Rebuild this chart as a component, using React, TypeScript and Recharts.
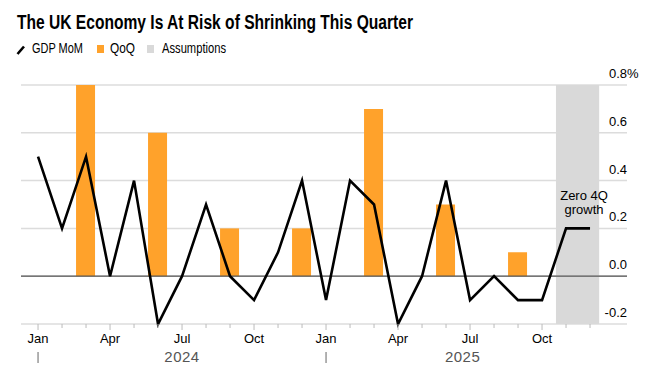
import {
  ComposedChart,
  Bar,
  Line,
  XAxis,
  YAxis,
  CartesianGrid,
  ReferenceLine,
  ReferenceArea,
  ReferenceDot,
} from 'recharts';

// Jan 2024 .. Dec 2025, one slot per month
const months = [
  'Jan', 'Feb', 'Mar', 'Apr', 'May', 'Jun', 'Jul', 'Aug', 'Sep', 'Oct', 'Nov', 'Dec',
  'Jan', 'Feb', 'Mar', 'Apr', 'May', 'Jun', 'Jul', 'Aug', 'Sep', 'Oct', 'Nov', 'Dec',
];
const gdpMoM = [
  0.5, 0.2, 0.5, 0.0, 0.4, -0.2, 0.0, 0.3, 0.0, -0.1, 0.1, 0.4,
  -0.1, 0.4, 0.3, -0.2, 0.0, 0.4, -0.1, 0.0, -0.1, -0.1, 0.2, 0.2,
];
const qoq = [
  null, null, 0.8, null, null, 0.6, null, null, 0.2, null, null, 0.2,
  null, null, 0.7, null, null, 0.3, null, null, 0.1, null, null, null,
];
const yearLabels = ['2024', '2025'];
const yTicks = [-0.2, 0, 0.2, 0.4, 0.6, 0.8];

const assumeStart = 21.58;
const assumeEnd = 23.38;

const data = months.map((m, i) => ({ idx: i, month: m, gdp: gdpMoM[i], qoq: qoq[i] }));
const monthTicks = months.map((_, i) => i);

const ORANGE = '#FFA22B';
const BAND = '#D9D9D9';
const FONT = '"Liberation Sans", Arial, sans-serif';
const NARROW = '"Liberation Sans Narrow", "Liberation Sans", Arial, sans-serif';

const MonthTick = (props: any) => {
  const { x, y, payload } = props;
  const i = payload.value as number;
  const major = i % 3 === 0;
  return (
    <g>
      <line x1={x} x2={x} y1={y} y2={y + (major ? 6 : 4)} stroke="#bbb" strokeWidth={1} />
      {major && (
        <text x={x} y={y + 19} textAnchor="middle" fontSize={13} fontFamily={FONT} fill="#000">
          {months[i]}
        </text>
      )}
      {i % 12 === 0 && (
        <line x1={x} x2={x} y1={y + 28} y2={y + 39} stroke="#666" strokeWidth={1} />
      )}
    </g>
  );
};

const ValueTick = (props: any) => {
  const { x, y, payload } = props;
  const v = payload.value as number;
  const label = v.toFixed(1);
  return (
    <g>
      <text x={x} y={y - 7} textAnchor="end" fontSize={13} fontFamily={FONT} fill="#000">
        {label}
      </text>
      {v === 0.8 && (
        <text x={x} y={y - 7} textAnchor="start" fontSize={13} fontFamily={FONT} fill="#000">
          %
        </text>
      )}
    </g>
  );
};

export default function App() {
  return (
    <div style={{ position: 'absolute', left: 0, top: 0, width: 672, height: 381, background: '#fff' }}>
      <svg width={672} height={70} style={{ position: 'absolute', left: 0, top: 0 }}>
        <text
          x={17}
          y={29}
          fontSize={20}
          fontWeight={700}
          fontFamily={NARROW}
          textLength={396}
          lengthAdjust="spacingAndGlyphs"
          fill="#000"
        >
          The UK Economy Is At Risk of Shrinking This Quarter
        </text>
        <line x1={17.5} y1={54} x2={24} y2={46.5} stroke="#000" strokeWidth={2.6} />
        <text x={32} y={53} fontSize={15} fontFamily={NARROW} textLength={51} lengthAdjust="spacingAndGlyphs">
          GDP MoM
        </text>
        <rect x={97} y={45} width={7} height={8} fill={ORANGE} />
        <text x={110} y={53} fontSize={15} fontFamily={NARROW} textLength={25} lengthAdjust="spacingAndGlyphs">
          QoQ
        </text>
        <rect x={147} y={45} width={7} height={8} fill={BAND} />
        <text x={162} y={53} fontSize={15} fontFamily={NARROW} textLength={64} lengthAdjust="spacingAndGlyphs">
          Assumptions
        </text>
      </svg>
      <div style={{ position: 'absolute', left: 0, top: 0 }}>
        <ComposedChart width={672} height={381} data={data} margin={{ top: 85, right: 0, bottom: 27, left: 21 }}>
          <CartesianGrid vertical={false} stroke="#dcdcdc" strokeWidth={1.5} />
          <ReferenceArea x1={assumeStart} x2={assumeEnd} y1={-0.2} y2={0.8} fill={BAND} fillOpacity={1} stroke="none" />
          <XAxis
            dataKey="idx"
            type="number"
            domain={[-0.71, 24.54]}
            ticks={monthTicks}
            interval={0}
            height={30}
            axisLine={false}
            tickLine={false}
            tickSize={0}
            tickMargin={0}
            tick={<MonthTick />}
          />
          <YAxis
            orientation="right"
            width={45}
            domain={[-0.2, 0.8]}
            ticks={yTicks}
            interval={0}
            axisLine={false}
            tickLine={false}
            tickSize={0}
            tickMargin={0}
            tick={<ValueTick />}
          />
          <ReferenceLine y={0} stroke="#555" strokeWidth={1.2} />
          <Bar dataKey="qoq" fill={ORANGE} barSize={19} isAnimationActive={false} />
          <Line
            dataKey="gdp"
            type="linear"
            stroke="#000"
            strokeWidth={2.6}
            dot={false}
            activeDot={false}
            isAnimationActive={false}
          />
          <ReferenceDot
            x={22.75}
            y={0.2}
            r={0}
            ifOverflow="visible"
            shape={(p: any) => (
              <g>
                <text x={p.cx} y={p.cy - 28} textAnchor="middle" fontSize={13} fontFamily={FONT} fill="#000">
                  Zero 4Q
                </text>
                <text x={p.cx} y={p.cy - 14} textAnchor="middle" fontSize={13} fontFamily={FONT} fill="#000">
                  growth
                </text>
              </g>
            )}
          />
          {yearLabels.map((yr, k) => (
            <ReferenceDot
              key={yr}
              x={k === 0 ? 6 : (12 + assumeEnd) / 2}
              y={-0.2}
              r={0}
              ifOverflow="visible"
              shape={(p: any) => (
                <text
                  x={p.cx}
                  y={p.cy + 38}
                  textAnchor="middle"
                  fontSize={15}
                  letterSpacing={0.5}
                  fontFamily={FONT}
                  fill="#555"
                >
                  {yr}
                </text>
              )}
            />
          ))}
        </ComposedChart>
      </div>
    </div>
  );
}
